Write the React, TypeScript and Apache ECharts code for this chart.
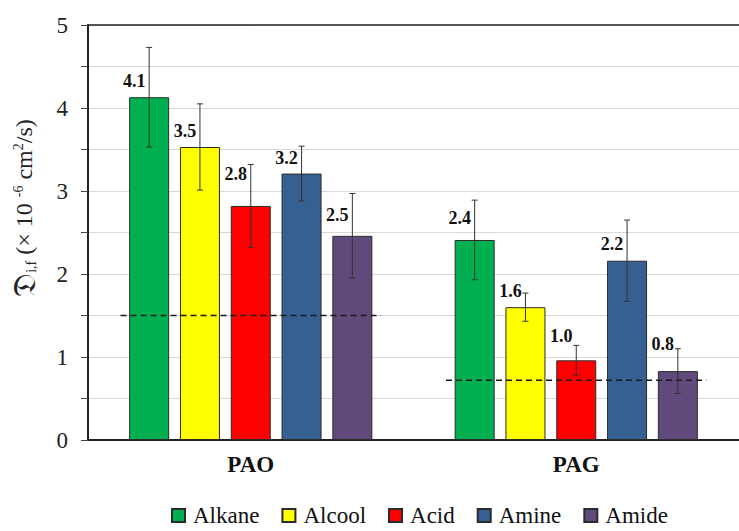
import { useEffect, useRef } from 'react';
import * as echarts from 'echarts';

// Diffusion coefficients per base oil and additive family
const categories = ['PAO', 'PAG'];
const groups = ['Alkane', 'Alcool', 'Acid', 'Amine', 'Amide'];

const alkane = [4.13, 2.41];
const alcool = [3.53, 1.6];
const acid = [2.82, 0.96];
const amine = [3.21, 2.16];
const amide = [2.46, 0.83];

const alkaneErr = [0.6, 0.48];
const alcoolErr = [0.52, 0.17];
const acidErr = [0.5, 0.18];
const amineErr = [0.33, 0.49];
const amideErr = [0.51, 0.27];

// dashed reference level for each base oil
const referenceLevels = [1.5, 0.72];

const values = [alkane, alcool, acid, amine, amide];
const errors = [alkaneErr, alcoolErr, acidErr, amineErr, amideErr];
const colors = ['#00B050', '#FFFF00', '#FF0000', '#376092', '#604A7B'];

// vertical lift of each value label above its bar (px)
const labelLift = [
  [7, 13],
  [7, 7],
  [23, 15],
  [7, 8],
  [12, 18],
];

const FONT = 'Liberation Serif';
const BAR_WIDTH = 40;
const BAR_GAP = 0.27;

export default function App() {
  const ref = useRef<HTMLDivElement>(null);

  useEffect(() => {
    document.body.style.margin = '0';
    if (!ref.current) return;
    const chart = echarts.init(ref.current, undefined, { renderer: 'svg' });

    const barSeries = groups.map((name, i) => ({
      name,
      type: 'bar',
      barWidth: BAR_WIDTH,
      barGap: `${BAR_GAP * 100}%`,
      itemStyle: { color: colors[i], borderColor: '#2b2b2b', borderWidth: 1 },
      data: values[i].map((v, c) => ({
        value: v,
        label: {
          show: true,
          position: 'top',
          distance: 0,
          offset: [-15, -labelLift[i][c]],
          formatter: () => v.toFixed(1),
          fontFamily: FONT,
          fontWeight: 'bold',
          fontSize: 18,
          color: '#111',
        },
      })),
      z: 2,
    }));

    const errorData: number[][] = [];
    groups.forEach((_, i) => {
      values[i].forEach((v, c) => {
        errorData.push([c, i, v - errors[i][c], v + errors[i][c]]);
      });
    });

    const errorSeries = {
      type: 'custom',
      name: 'error',
      z: 5,
      renderItem: (params: any, api: any) => {
        const c = api.value(0);
        const i = api.value(1);
        const step = BAR_WIDTH * (1 + BAR_GAP);
        const dx = (i - (groups.length - 1) / 2) * step;
        const lo = api.coord([c, api.value(2)]);
        const hi = api.coord([c, api.value(3)]);
        const x = lo[0] + dx;
        const cap = 3;
        const style = { stroke: '#333', lineWidth: 1 };
        return {
          type: 'group',
          children: [
            { type: 'line', shape: { x1: x, y1: lo[1], x2: x, y2: hi[1] }, style },
            { type: 'line', shape: { x1: x - cap, y1: lo[1], x2: x + cap, y2: lo[1] }, style },
            { type: 'line', shape: { x1: x - cap, y1: hi[1], x2: x + cap, y2: hi[1] }, style },
          ],
        };
      },
      data: errorData,
    };

    const refSeries = {
      type: 'custom',
      name: 'reference',
      z: 6,
      renderItem: (params: any, api: any) => {
        const p = api.coord([api.value(0), api.value(1)]);
        const half = api.size([1, 0])[0] * 0.4;
        return {
          type: 'line',
          shape: { x1: p[0] - half, y1: p[1], x2: p[0] + half, y2: p[1] },
          style: { stroke: '#1a1a1a', lineWidth: 1.5, lineDash: [6, 4] },
        };
      },
      data: referenceLevels.map((v, c) => [c, v]),
    };

    chart.setOption({
      animation: false,
      backgroundColor: '#fff',
      grid: {
        left: 88,
        top: 25,
        width: 660,
        height: 415,
      },
      legend: {
        data: groups,
        left: 166,
        top: 499,
        itemWidth: 13,
        itemHeight: 13,
        itemGap: 22,
        icon: 'rect',
        textStyle: { fontFamily: FONT, fontSize: 23, color: '#111', padding: [0, 0, 0, 3] },
      },
      xAxis: [
        {
          type: 'category',
          data: categories,
          axisLine: { lineStyle: { color: '#222', width: 2 } },
          axisTick: { show: false },
          axisLabel: {
            fontFamily: FONT,
            fontWeight: 'bold',
            fontSize: 23,
            color: '#111',
            margin: 13,
          },
        },
        {
          type: 'category',
          data: categories,
          position: 'top',
          axisLine: { lineStyle: { color: '#222', width: 1.5 } },
          axisTick: { show: false },
          axisLabel: { show: false },
        },
      ],
      yAxis: {
        type: 'value',
        min: 0,
        max: 5,
        interval: 0.5,
        axisLine: { show: true, lineStyle: { color: '#222', width: 2 } },
        axisTick: { show: true, length: 7, lineStyle: { color: '#444', width: 1 } },
        axisLabel: {
          fontFamily: FONT,
          fontSize: 23,
          color: '#222',
          margin: 20,
          formatter: (v: number) => (Number.isInteger(v) ? String(v) : ''),
        },
        splitLine: { lineStyle: { color: '#d9d9d9', width: 1 } },
      },
      graphic: [
        {
          type: 'text',
          x: 24,
          y: 208,
          rotation: Math.PI / 2,
          style: {
            text: '{d|𝔇}{sub|i,f}{n| (× 10 }{sup|-6}{n| cm}{sup|2}{n|/s)}',
            align: 'center',
            verticalAlign: 'middle',
            fill: '#222',
            fontFamily: FONT,
            rich: {
              d: { fontSize: 32, fontFamily: FONT, fill: '#222' },
              sub: { fontSize: 14, fontFamily: FONT, fill: '#222', padding: [14, 0, 0, 0] },
              n: { fontSize: 24, fontFamily: FONT, fill: '#222' },
              sup: { fontSize: 14, fontFamily: FONT, fill: '#222', padding: [0, 0, 12, 0] },
            },
          },
        },
      ],
      series: [...barSeries, errorSeries, refSeries],
    });

    return () => chart.dispose();
  }, []);

  return <div ref={ref} style={{ width: 739, height: 531 }} />;
}
